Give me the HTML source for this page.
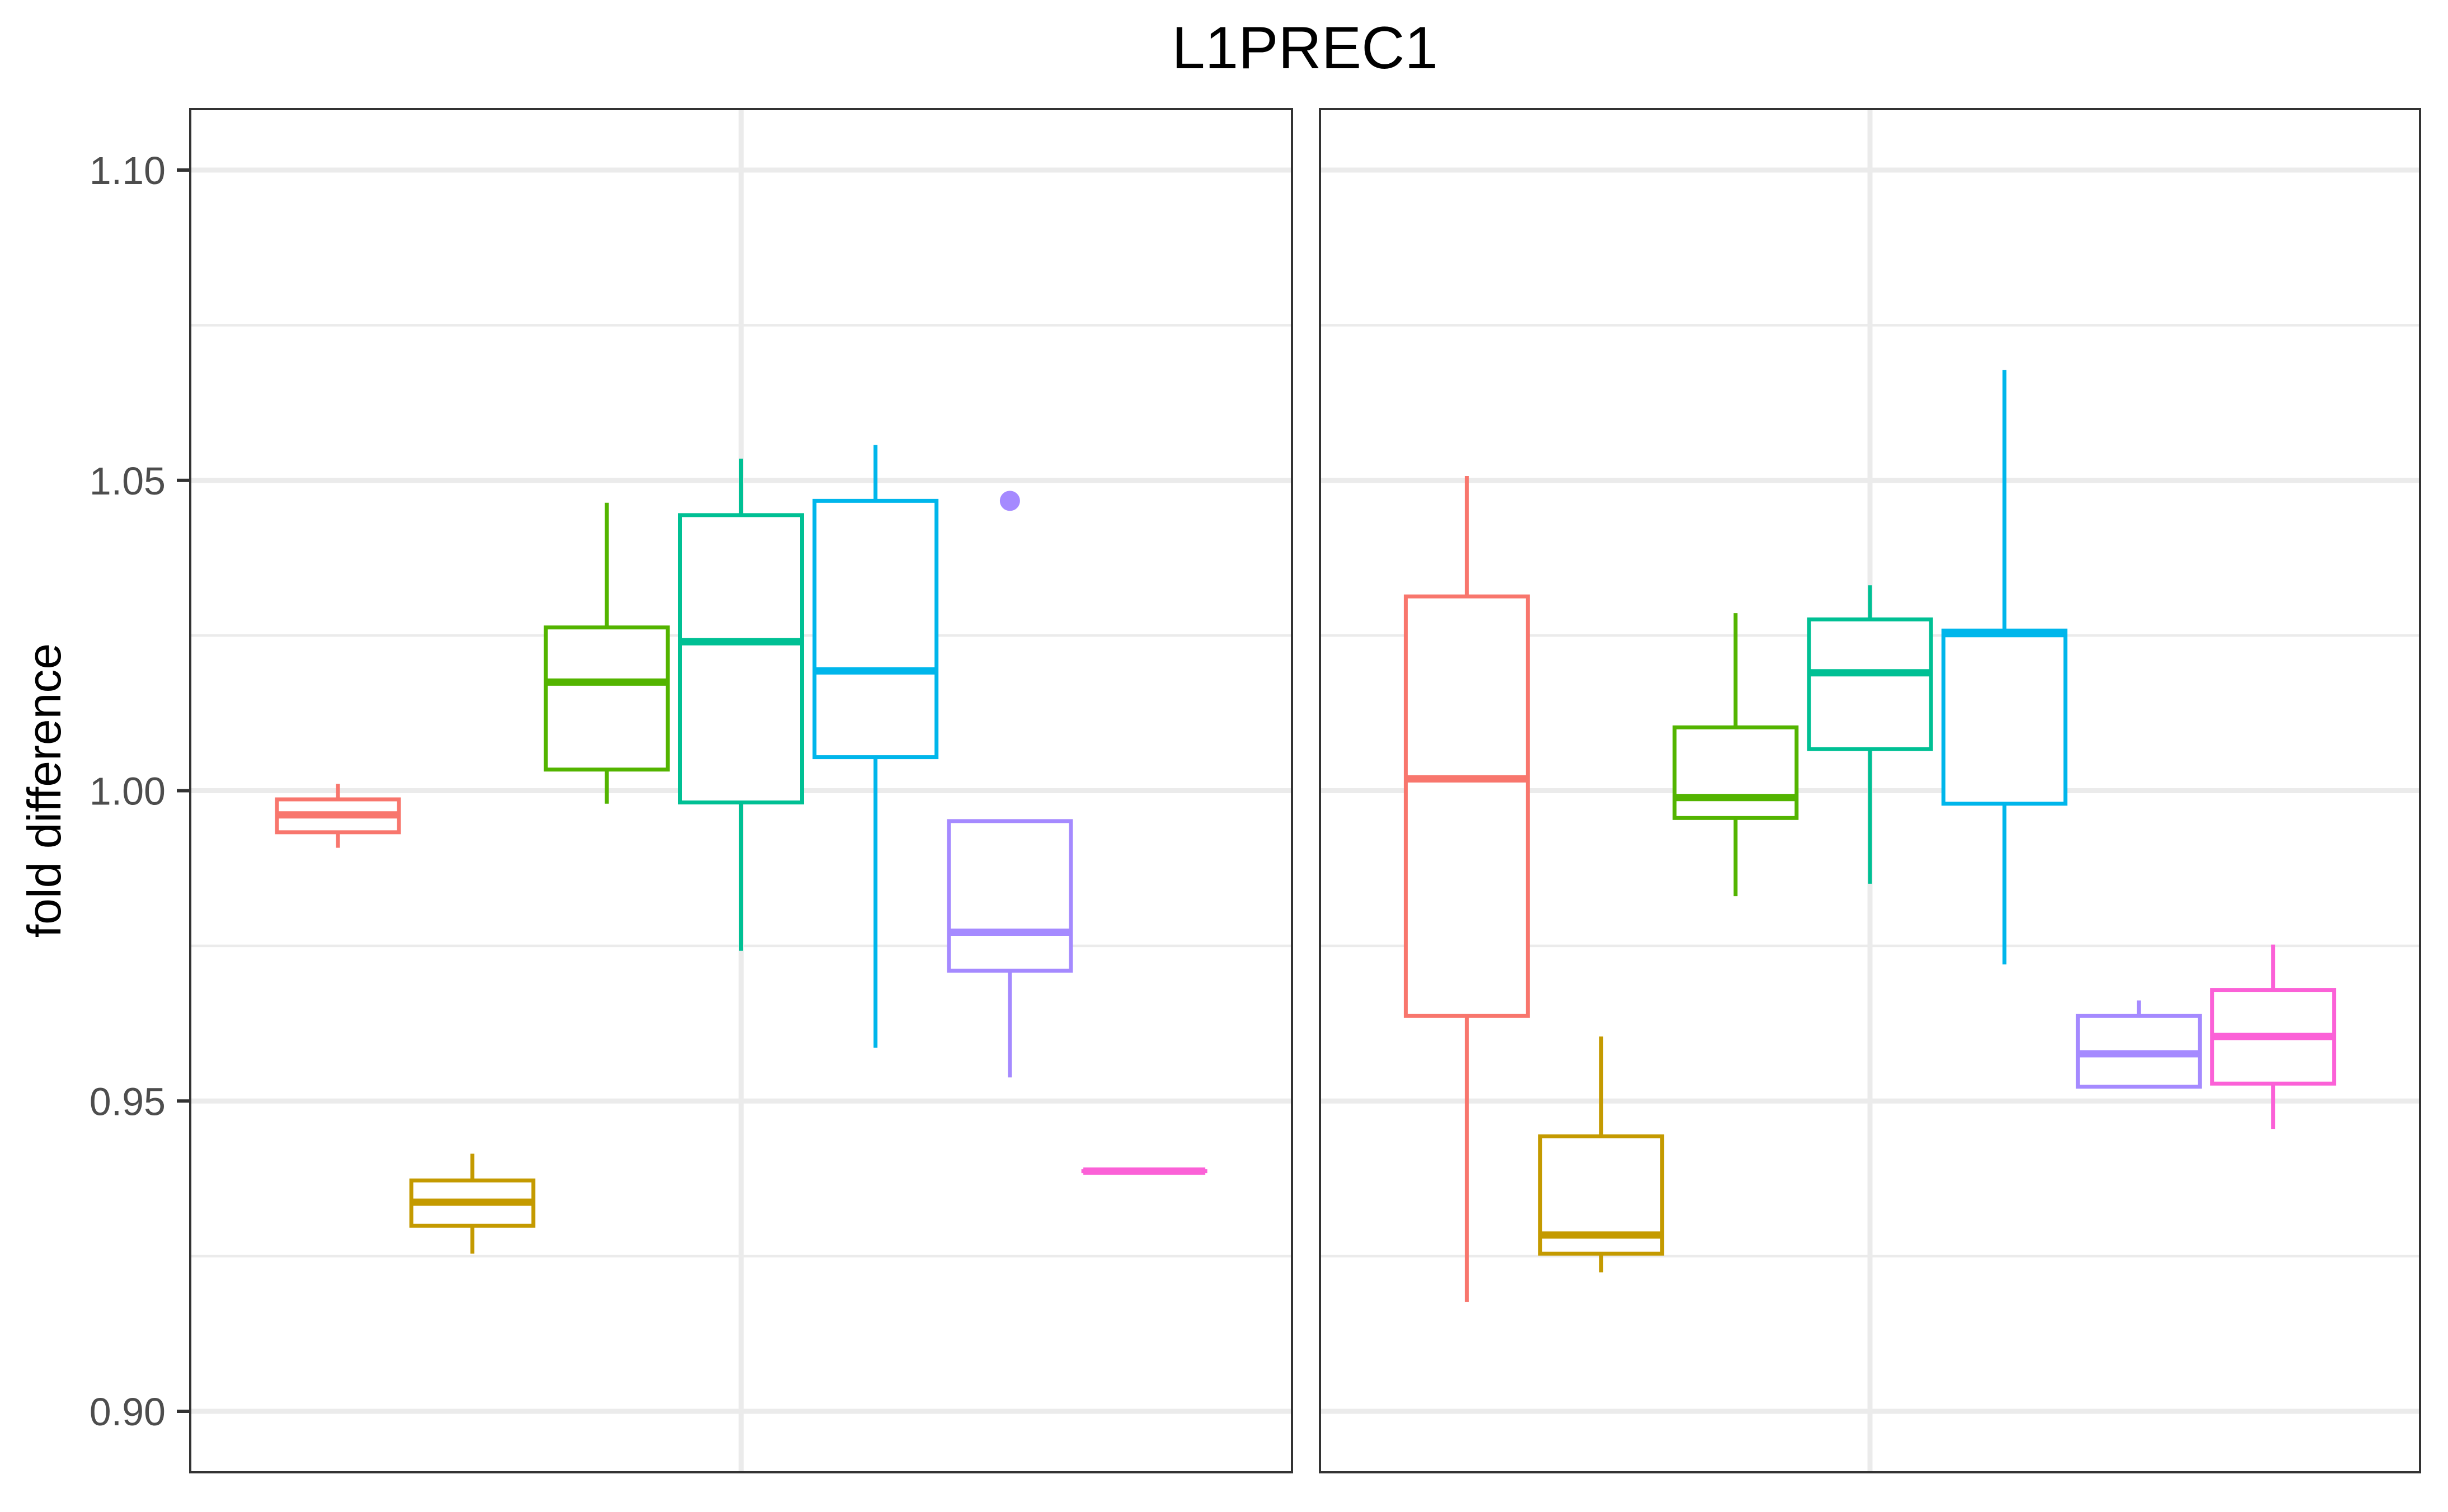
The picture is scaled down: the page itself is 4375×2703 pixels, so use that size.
<!DOCTYPE html>
<html><head><meta charset="utf-8"><style>
html,body{margin:0;padding:0;background:#fff;}
svg{display:block;font-family:"Liberation Sans",sans-serif;}
</style></head><body>
<svg id="chart" width="4375" height="2703" viewBox="0 0 4375 2703" xmlns="http://www.w3.org/2000/svg">
<text x="2332" y="122" font-size="107" text-anchor="middle" fill="#000">L1PREC1</text>
<text transform="translate(108,1413) rotate(-90)" font-size="84" text-anchor="middle" fill="#000">fold difference</text>
</svg>
<script>
const groups = ["g1","g2","g3","g4","g5","g6","g7"];
const colors = ["#F8766D","#C49A00","#53B400","#00C094","#00B6EB","#A58AFF","#FB61D7"];
const yTicks = [0.90,0.95,1.00,1.05,1.10];
const yTickLabels = ["0.90","0.95","1.00","1.05","1.10"];
const yMinor = [0.925,0.975,1.025,1.075];
// panel 1: [low, q1, median, q3, high]
const p1Low = [0.9908,0.9254,0.9979,0.9742,0.9586,0.9538,0.9387];
const p1Q1  = [0.9933,0.9299,1.0034,0.9981,1.0054,0.9710,0.9387];
const p1Med = [0.9961,0.9337,1.0175,1.0240,1.0193,0.9772,0.9387];
const p1Q3  = [0.9986,0.9372,1.0263,1.0444,1.0467,0.9951,0.9387];
const p1High= [1.0011,0.9415,1.0464,1.0535,1.0557,0.9951,0.9387];
const p1Outliers = [[5,1.0467]];
// panel 2
const p2Low = [0.9176,0.9224,0.9830,0.9850,0.9720,0.9523,0.9455];
const p2Q1  = [0.9637,0.9254,0.9956,1.0067,0.9979,0.9523,0.9528];
const p2Med = [1.0019,0.9284,0.9989,1.0190,1.0253,0.9576,0.9604];
const p2Q3  = [1.0313,0.9443,1.0102,1.0276,1.0258,0.9637,0.9679];
const p2High= [1.0507,0.9604,1.0286,1.0331,1.0678,0.9662,0.9752];
const p2Outliers = [];

const NS="http://www.w3.org/2000/svg";
const svg=document.getElementById('chart');
const pTop=195, pBottom=2632;
const panels=[{x0:340,x1:2309,low:p1Low,q1:p1Q1,med:p1Med,q3:p1Q3,high:p1High,out:p1Outliers},
              {x0:2359,x1:4325,low:p2Low,q1:p2Q1,med:p2Med,q3:p2Q3,high:p2High,out:p2Outliers}];
function yScale(v){return 2523-(v-0.90)/0.05*554.75;}
const spacing=240.2, boxW=218;
function mk(tag,attrs){const e=document.createElementNS(NS,tag);for(const k in attrs)e.setAttribute(k,attrs[k]);return e;}

panels.forEach((p,pi)=>{
  const g=mk('g',{});
  
  
  svg.appendChild(g);
  const cx=(p.x0+p.x1)/2;
  function xScale(i){return cx+(i-3)*spacing;}
  yMinor.forEach(v=>{
    const l=mk('line',{x1:p.x0,x2:p.x1,y1:yScale(v),y2:yScale(v),stroke:'#EBEBEB','stroke-width':4.5});
    
    
    g.appendChild(l);
  });
  yTicks.forEach(v=>{
    const l=mk('line',{x1:p.x0,x2:p.x1,y1:yScale(v),y2:yScale(v),stroke:'#EBEBEB','stroke-width':9});
    
    
    g.appendChild(l);
  });
  const vg=mk('line',{x1:cx,x2:cx,y1:pTop,y2:pBottom,stroke:'#EBEBEB','stroke-width':9});
  
  
  g.appendChild(vg);
  groups.forEach((name,i)=>{
    const x=xScale(i), c=colors[i];
    const bg=mk('g',{});
    
    
    g.appendChild(bg);
    bg.appendChild(mk('line',{x1:x,x2:x,y1:yScale(p.high[i]),y2:yScale(p.q3[i]),stroke:c,'stroke-width':7}));
    bg.appendChild(mk('line',{x1:x,x2:x,y1:yScale(p.q1[i]),y2:yScale(p.low[i]),stroke:c,'stroke-width':7}));
    const yq3=yScale(p.q3[i]), yq1=yScale(p.q1[i]);
    bg.appendChild(mk('rect',{x:x-boxW/2,y:yq3,width:boxW,height:Math.max(0.01,yq1-yq3),fill:'#fff',stroke:c,'stroke-width':7}));
    bg.appendChild(mk('line',{x1:x-boxW/2,x2:x+boxW/2,y1:yScale(p.med[i]),y2:yScale(p.med[i]),stroke:c,'stroke-width':13}));
  });
  p.out.forEach(o=>{
    const c=mk('circle',{cx:xScale(o[0]),cy:yScale(o[1]),r:18,fill:colors[o[0]]});
    
    
    g.appendChild(c);
  });
  const border=mk('rect',{x:p.x0,y:pTop,width:p.x1-p.x0,height:pBottom-pTop,fill:'none',stroke:'#333','stroke-width':4});
  
  
  g.appendChild(border);
});
yTicks.forEach((v,i)=>{
  const t=mk('line',{x1:316,x2:340,y1:yScale(v),y2:yScale(v),stroke:'#333','stroke-width':6});
  
  
  svg.appendChild(t);
  const lab=mk('text',{x:296,y:yScale(v)+25,'font-size':70,'text-anchor':'end',fill:'#4D4D4D'});
  
  
  lab.textContent=yTickLabels[i];
  svg.appendChild(lab);
});
</script>
</body></html>
